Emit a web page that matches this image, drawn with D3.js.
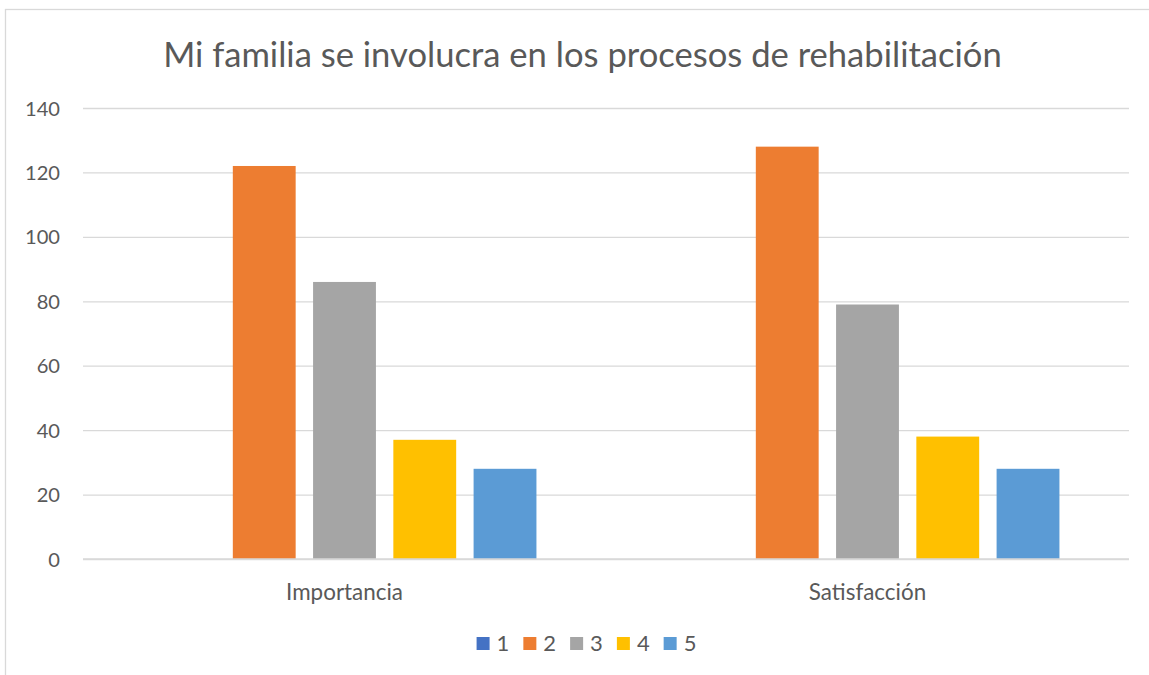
<!DOCTYPE html>
<html>
<head>
<meta charset="utf-8">
<script src="https://cdn.jsdelivr.net/npm/d3@7"></script>
<style>
  html, body { margin: 0; padding: 0; background: #fff; }
  svg { display: block; }
  text { font-family: Lato, "Open Sans", sans-serif; fill: #595959; }
</style>
</head>
<body>
<svg id="chart" width="1149" height="675"></svg>
<script>
const title = "Mi familia se involucra en los procesos de rehabilitación";
const categories = ["Importancia", "Satisfacción"];
const seriesNames = ["1", "2", "3", "4", "5"];
const seriesColors = ["#4472C4", "#ED7D31", "#A5A5A5", "#FFC000", "#5B9BD5"];
const values1 = [0, 0];
const values2 = [122, 128];
const values3 = [86, 79];
const values4 = [37, 38];
const values5 = [28, 28];
const yTicks = [0, 20, 40, 60, 80, 100, 120, 140];

const seriesValues = [values1, values2, values3, values4, values5];

const svg = d3.select("#chart");
const plot = { left: 83, right: 1129, top: 108, bottom: 559 };

// chart frame
svg.append("rect")
  .attr("x", 5.5).attr("y", 9.5)
  .attr("width", 1160).attr("height", 700)
  .attr("fill", "#fff").attr("stroke", "#D9D9D9").attr("stroke-width", 1.3);

function fitSize(node, targetWidth, baseSize) {
  node.style.fontSize = baseSize + "px";
  const w = node.getComputedTextLength();
  return baseSize * targetWidth / w;
}

const y = d3.scaleLinear().domain([0, 140]).range([plot.bottom, plot.top]);
const x0 = d3.scaleBand().domain(categories).range([plot.left, plot.right])
  .paddingInner(0.266).paddingOuter(0.133);
const x1 = d3.scaleBand().domain(seriesNames).range([0, x0.bandwidth()])
  .paddingInner(0.217).paddingOuter(0);

// gridlines + y labels
const yAxis = d3.axisLeft(y).tickValues(yTicks).tickSize(-(plot.right - plot.left)).tickPadding(23);
const gy = svg.append("g").attr("transform", `translate(${plot.left},0)`).call(yAxis);
gy.select(".domain").remove();
gy.selectAll(".tick line").attr("stroke", "#D9D9D9").attr("stroke-width", 1.3);
const yLabels = gy.selectAll(".tick text")
  .style("font-family", "Lato, 'Open Sans', sans-serif")
  .attr("fill", "#595959").attr("dy", "0.35em");
const yNode = yLabels.filter(d => d === 140).node();
const ySize = fitSize(yNode, 35, 19);
yLabels.style("font-size", ySize + "px");

// bars
const groups = svg.append("g").selectAll("g")
  .data(categories).join("g")
  .attr("transform", d => `translate(${x0(d)},0)`);

groups.selectAll("rect")
  .data((c, ci) => seriesNames.map((s, si) => ({ s, si, v: seriesValues[si][ci] })))
  .join("rect")
  .attr("x", d => x1(d.s))
  .attr("width", x1.bandwidth())
  .attr("y", d => y(d.v))
  .attr("height", d => y(0) - y(d.v))
  .attr("fill", d => seriesColors[d.si]);

// zero line on top
svg.append("line")
  .attr("x1", plot.left).attr("x2", plot.right)
  .attr("y1", y(0)).attr("y2", y(0))
  .attr("stroke", "#D9D9D9").attr("stroke-width", 1.3);

// category labels
const xAxis = d3.axisBottom(x0).tickSize(0).tickPadding(25);
const gx = svg.append("g").attr("transform", `translate(0,${plot.bottom})`).call(xAxis);
gx.select(".domain").remove();
const xLabels = gx.selectAll(".tick text")
  .style("font-family", "Lato, 'Open Sans', sans-serif")
  .attr("fill", "#595959");
const xSize = fitSize(xLabels.filter(d => d === "Importancia").node(), 117, 19);
xLabels.style("font-size", xSize + "px");

// title
const t = svg.append("text")
  .attr("x", 582.5).attr("y", 67)
  .attr("text-anchor", "middle")
  .text(title);
t.style("font-size", fitSize(t.node(), 839, 31) + "px");

// legend
const legend = svg.append("g");
const items = legend.selectAll("g").data(seriesNames).join("g");
items.append("rect")
  .attr("width", 13).attr("height", 13)
  .attr("y", 637)
  .attr("fill", (d, i) => seriesColors[i]);
items.append("text")
  .attr("y", 651)
  .attr("x", 20)
  .style("font-size", "22px")
  .text(d => d);
let cx = 0;
const pos = [];
items.each(function() {
  const tw = d3.select(this).select("text").node().getComputedTextLength();
  pos.push(cx);
  cx += 20 + tw + 14;
});
const totalW = cx - 14;
const startX = 586.5 - totalW / 2;
items.attr("transform", (d, i) => `translate(${startX + pos[i]},0)`);
</script>
</body>
</html>
